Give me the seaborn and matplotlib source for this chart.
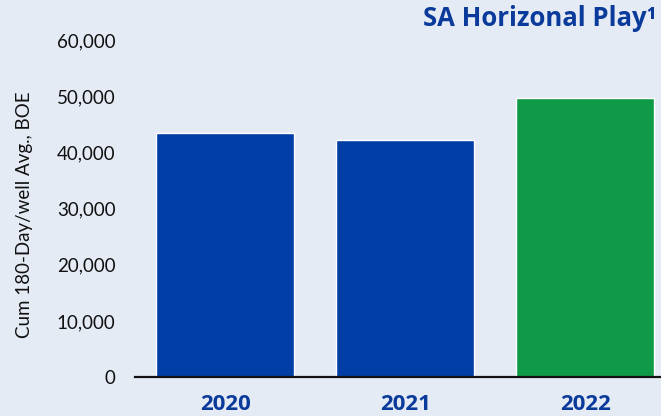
import matplotlib
matplotlib.use("Agg")
import matplotlib.pyplot as plt
import pandas as pd
import seaborn as sns

years = ["2020", "2021", "2022"]
cum_boe = [43500, 42300, 49800]
bar_colors = ["#003DA5", "#003DA5", "#0F9A48"]

bg = "#E5EBF5"
navy = "#0A3A9A"

sns.set_style("white")
plt.rcParams["font.family"] = ["Lato", "DejaVu Sans"]

df = pd.DataFrame({"year": years, "boe": cum_boe})

fig = plt.figure(figsize=(6.61, 4.16), dpi=100, facecolor=bg)
ax = fig.add_axes([0.2042, 0.0938, 0.7958, 0.8091])
ax.set_facecolor(bg)

sns.barplot(data=df, x="year", y="boe", hue="year", palette=bar_colors,
            width=0.767, saturation=1, legend=False, ax=ax)

ax.set_xlim(-0.5, 2.42)
ax.set_ylim(0, 60000)
ax.set_yticks(range(0, 60001, 10000))
ax.set_yticklabels([f"{v:,}" for v in range(0, 60001, 10000)])
ax.tick_params(axis="y", length=0, pad=14, labelsize=13.5, labelcolor="#111111")
ax.tick_params(axis="x", length=0, pad=12, labelsize=16, labelcolor=navy)
for lbl in ax.get_xticklabels():
    lbl.set_fontweight("bold")
    lbl.set_family(["Open Sans", "DejaVu Sans"])

for s in ["top", "right", "left"]:
    ax.spines[s].set_visible(False)
ax.spines["bottom"].set_color("#111111")
ax.spines["bottom"].set_linewidth(1.6)

ax.set_xlabel("")
ax.set_ylabel("")
fig.text(25 / 661, 1 - 215 / 416, "Cum 180-Day/well Avg., BOE", rotation=90,
         ha="center", va="center", fontsize=13.5, color="#111111")
fig.text(656 / 661, 1 - 19 / 416, "SA Horizonal Play\u00b9", ha="right", va="center",
         fontsize=18.5, fontweight="bold", color=navy, family=["Open Sans", "DejaVu Sans"])

fig.savefig("out.png", dpi=100, facecolor=bg)
